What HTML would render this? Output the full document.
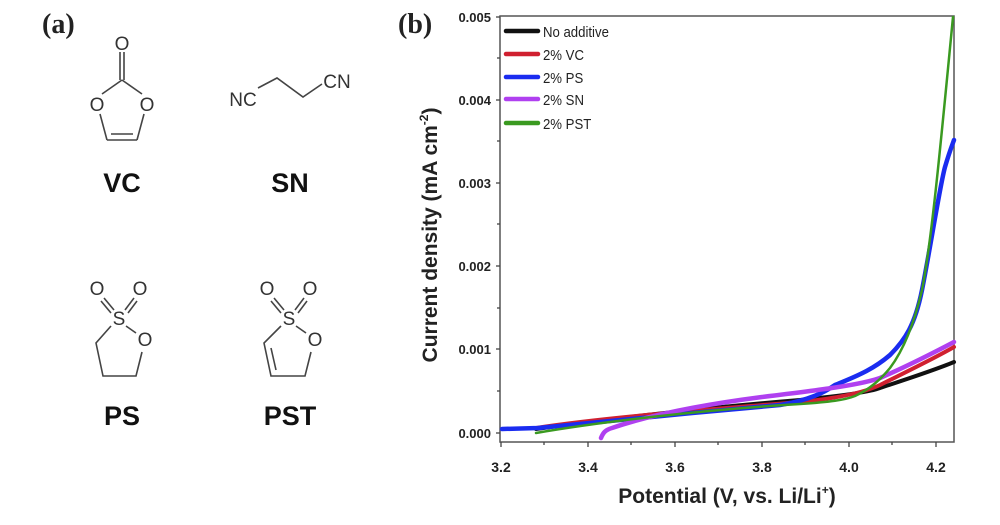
<!DOCTYPE html>
<html><head><meta charset="utf-8"><style>
html,body{margin:0;padding:0;background:#fff;}
svg{display:block;}
text{font-family:"Liberation Sans",Arial,sans-serif;}
</style></head><body>
<svg width="1000" height="525" viewBox="0 0 1000 525" xmlns="http://www.w3.org/2000/svg">
<rect width="1000" height="525" fill="#fff"/>
<!-- panel a -->
<text x="42" y="33" style="font-family:'Liberation Serif',serif" font-weight="bold" font-size="28" fill="#222">(a)</text>
<g stroke="#444" stroke-width="1.6" fill="none">
 <line x1="120" y1="52" x2="120" y2="80"/><line x1="124" y1="52" x2="124" y2="80"/>
 <line x1="122" y1="80" x2="102" y2="94"/><line x1="122" y1="80" x2="142" y2="94"/>
 <line x1="100" y1="114" x2="107" y2="140"/><line x1="144" y1="114" x2="137" y2="140"/>
 <line x1="107" y1="140" x2="137" y2="140"/><line x1="111" y1="134" x2="133" y2="134"/>
 <polyline points="258,88 277,78 303,97 322,84"/>
 <line x1="104" y1="298" x2="114" y2="310"/><line x1="101" y1="301" x2="111" y2="313"/>
 <line x1="134" y1="298" x2="125" y2="310"/><line x1="137" y1="301" x2="128" y2="313"/>
 <polyline points="111,326 96,343 103,376 136,376 142,352"/>
 <line x1="126" y1="326" x2="136" y2="333"/>
 <line x1="274" y1="298" x2="284" y2="310"/><line x1="271" y1="301" x2="281" y2="313"/>
 <line x1="304" y1="298" x2="295" y2="310"/><line x1="307" y1="301" x2="298" y2="313"/>
 <polyline points="281,326 264,343 271,376 305,376 311,352"/>
 <line x1="271" y1="348" x2="276" y2="370"/>
 <line x1="296" y1="326" x2="306" y2="333"/>
</g>
<g fill="#333" font-size="19" text-anchor="middle">
 <text x="122" y="50">O</text>
 <text x="97" y="111">O</text><text x="147" y="111">O</text>
 <text x="243" y="106">NC</text><text x="337" y="88">CN</text>
 <text x="97" y="295">O</text><text x="140" y="295">O</text><text x="119" y="325">S</text><text x="145" y="346">O</text>
 <text x="267" y="295">O</text><text x="310" y="295">O</text><text x="289" y="325">S</text><text x="315" y="346">O</text>
</g>
<g fill="#111" font-size="27" font-weight="bold" text-anchor="middle">
 <text x="122" y="192">VC</text><text x="290" y="192">SN</text>
 <text x="122" y="425">PS</text><text x="290" y="425">PST</text>
</g>
<!-- panel b -->
<text x="398" y="33" style="font-family:'Liberation Serif',serif" font-weight="bold" font-size="28" fill="#222">(b)</text>
<rect x="500" y="16" width="454" height="426" fill="none" stroke="#555" stroke-width="1.5"/>
<g stroke="#444" stroke-width="1.3">
 <line x1="496" y1="17" x2="500" y2="17"/><line x1="496" y1="100" x2="500" y2="100"/><line x1="496" y1="183" x2="500" y2="183"/><line x1="496" y1="266" x2="500" y2="266"/><line x1="496" y1="349" x2="500" y2="349"/><line x1="496" y1="433" x2="500" y2="433"/>
 <line x1="497" y1="58" x2="500" y2="58"/><line x1="497" y1="141" x2="500" y2="141"/><line x1="497" y1="224" x2="500" y2="224"/><line x1="497" y1="308" x2="500" y2="308"/><line x1="497" y1="391" x2="500" y2="391"/>
 <line x1="501" y1="442" x2="501" y2="447"/><line x1="544" y1="442" x2="544" y2="445"/><line x1="588" y1="442" x2="588" y2="447"/><line x1="631" y1="442" x2="631" y2="445"/><line x1="675" y1="442" x2="675" y2="447"/><line x1="718" y1="442" x2="718" y2="445"/><line x1="762" y1="442" x2="762" y2="447"/><line x1="805" y1="442" x2="805" y2="445"/><line x1="849" y1="442" x2="849" y2="447"/><line x1="892" y1="442" x2="892" y2="445"/><line x1="936" y1="442" x2="936" y2="447"/>
</g>
<g fill="#222" font-size="13" font-weight="bold" text-anchor="end">
 <text x="491" y="22">0.005</text><text x="491" y="105">0.004</text><text x="491" y="188">0.003</text><text x="491" y="271">0.002</text><text x="491" y="354">0.001</text><text x="491" y="438">0.000</text>
</g>
<g fill="#222" font-size="14" font-weight="bold" text-anchor="middle">
 <text x="501" y="472">3.2</text><text x="588" y="472">3.4</text><text x="675" y="472">3.6</text><text x="762" y="472">3.8</text><text x="849" y="472">4.0</text><text x="936" y="472">4.2</text>
</g>
<text x="727" y="503" font-size="21" font-weight="bold" fill="#222" text-anchor="middle">Potential (V, vs. Li/Li<tspan font-size="12" dy="-9">+</tspan><tspan dy="9">)</tspan></text>
<text transform="translate(437,235) rotate(-90)" font-size="21" font-weight="bold" fill="#222" text-anchor="middle">Current density (mA cm<tspan font-size="12" dy="-9">-2</tspan><tspan dy="9">)</tspan></text>
<g fill="none" stroke-linecap="round" stroke-linejoin="round">
 <path d="M536,429 C600,420 700,408 800,400 C840,396 870,392 880,388 C910,378 935,370 954,362" stroke="#111" stroke-width="4"/>
 <path d="M536,428 C600,418 700,410 800,402 C840,398 865,392 880,385 C910,370 935,358 954,347" stroke="#d02030" stroke-width="4"/>
 <path d="M502,429 L538,428 C600,422 700,412 780,405 C810,400 825,392 835,385 C860,375 875,368 890,355 C905,340 915,325 922,290 C930,250 940,185 945,167 C950,150 953,143 954,140" stroke="#1a2cf0" stroke-width="4.5"/>
 <path d="M601,438 C603,433 605,430 612,428 C650,415 700,405 762,397 C820,390 860,385 880,378 C910,365 935,352 954,342" stroke="#b040f0" stroke-width="4.5"/>
 <path d="M536,433 C600,422 700,410 800,404 C830,402 845,400 855,396 C870,389 880,380 890,368 C905,348 915,320 922,290 C932,240 942,130 953,17" stroke="#3a9a20" stroke-width="2.5"/>
</g>
<g stroke-width="4.5" stroke-linecap="round">
 <line x1="506" y1="31" x2="538" y2="31" stroke="#111"/>
 <line x1="506" y1="54" x2="538" y2="54" stroke="#d02030"/>
 <line x1="506" y1="77" x2="538" y2="77" stroke="#1a2cf0"/>
 <line x1="506" y1="99" x2="538" y2="99" stroke="#b040f0"/>
 <line x1="506" y1="123" x2="538" y2="123" stroke="#3a9a20"/>
</g>
<g fill="#222" font-size="15" transform="scale(0.88,1)">
 <text x="617" y="37">No additive</text>
 <text x="617" y="60">2% VC</text>
 <text x="617" y="83">2% PS</text>
 <text x="617" y="105">2% SN</text>
 <text x="617" y="129">2% PST</text>
</g>
</svg>
</body></html>
